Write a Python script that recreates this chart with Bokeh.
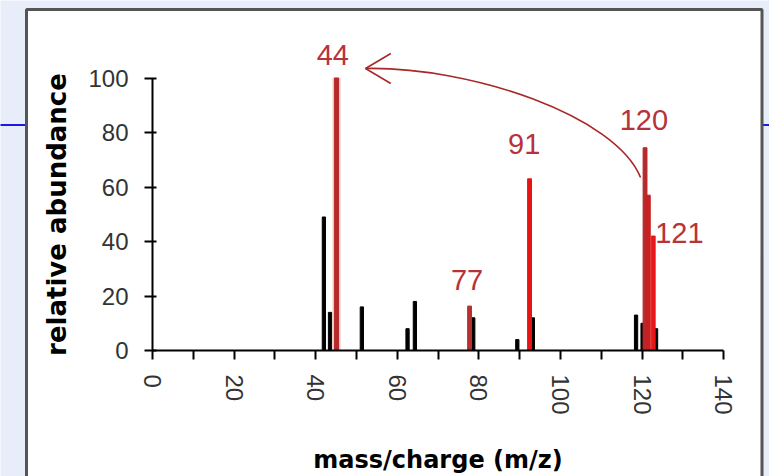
from bokeh.plotting import figure
from bokeh.models import Range1d, FixedTicker, LinearAxis
from bokeh.core.properties import value
from bokeh.embed import file_html
from bokeh.resources import INLINE

# ---------------- data ----------------
black_mz = [42.0, 43.5, 51.3, 62.5, 64.3, 78.6, 89.4, 93.2, 118.5, 120.1, 123.4]
black_ab = [49, 14, 16, 8, 18, 12, 4, 12, 13, 10, 8]

red_mz = [45.1, 77.7, 92.4, 120.7, 121.5, 122.7]
red_ab = [100, 16.3, 63, 74.4, 57, 42]
red_col = ["#b52a2a", "#b83030", "#e81414", "#b52a2a", "#c82020", "#e81818"]

label_text = ["44", "77", "91", "120", "121"]
label_x = [44.2, 77.1, 91.1, 120.4, 129.1]
label_y = [108.6, 25.7, 75.6, 84.7, 43.3]

x_ticks = [0, 20, 40, 60, 80, 100, 120, 140]
x_minor = [10, 30, 50, 70, 90, 110, 130]
y_ticks = [0, 20, 40, 60, 80, 100]

# arrow from the 120 peak back to the 44 peak (annotation)
arrow_start = (119.6, 63.5)
arrow_c1 = (78.0, 104.2)
arrow_c2 = (113.5, 86.2)
arrow_tip = (52.2, 103.5)
arrow_barb_x = [58.4, 58.4]
arrow_barb_y = [109.0, 98.0]

# ---------------- layout ----------------
W, H = 769, 476
BG = "#e7eef9"
kx = (723.3 - 152.0) / 140.0
ky = (350.0 - 77.5) / 100.0


def sx(px):
    return (px - 152.0) / kx


def sy(py):
    return (350.0 - py) / ky


p = figure(width=W, height=H,
           x_range=Range1d(sx(0), sx(W)), y_range=Range1d(sy(H), sy(0)),
           output_backend="svg", toolbar_location=None,
           x_axis_location=None, y_axis_location=None, min_border=0)
p.grid.visible = False
p.outline_line_color = None
p.background_fill_color = BG
p.border_fill_color = BG

# slide decoration: blue rule and white window with grey frame
p.segment(x0=[sx(-5)], y0=[sy(124.5)], x1=[sx(W + 5)], y1=[sy(124.5)],
          line_color="#1a1ae6", line_width=2)
p.quad(left=[sx(26)], right=[sx(761.5)], top=[sy(9)], bottom=[sy(H + 20)],
       fill_color="white", line_color="#555555", line_width=3)

# bars
p.vbar(x=black_mz, top=black_ab, bottom=0, width=0.8, color="black")
p.vbar(x=[red_mz[0]], top=[red_ab[0]], bottom=0, width=1.7, color="#f3c2c2")
p.vbar(x=red_mz, top=red_ab, bottom=0, width=0.95, color=red_col)

# arrow
p.bezier(x0=[arrow_start[0]], y0=[arrow_start[1]], x1=[arrow_tip[0]], y1=[arrow_tip[1]],
         cx0=[arrow_c2[0]], cy0=[arrow_c2[1]], cx1=[arrow_c1[0]], cy1=[arrow_c1[1]],
         line_color="#a82828", line_width=1.6)
p.segment(x0=[arrow_tip[0]] * 2, y0=[arrow_tip[1]] * 2, x1=arrow_barb_x, y1=arrow_barb_y,
          line_color="#a82828", line_width=1.6)

# peak labels
p.text(x=label_x, y=label_y, text=label_text,
       text_font=value("Liberation Sans"), text_font_size="29px",
       text_color="#b8323a", text_align="center", text_baseline="alphabetic")

# axes
xaxis = LinearAxis(fixed_location=0, bounds=(0, 140),
                   ticker=FixedTicker(ticks=x_ticks, minor_ticks=x_minor))
yaxis = LinearAxis(fixed_location=0, bounds=(0, 100), ticker=FixedTicker(ticks=y_ticks))
for ax in (xaxis, yaxis):
    ax.axis_line_width = 2
    ax.axis_line_color = "black"
    ax.major_tick_line_width = 2
    ax.minor_tick_line_width = 2
    ax.major_tick_line_color = "black"
    ax.minor_tick_line_color = "black"
    ax.major_label_text_font = "Liberation Sans"
    ax.major_label_text_font_size = "24px"
    ax.major_label_text_color = "#333333"
    ax.axis_label_text_font = "DejaVu Sans"
    ax.axis_label_text_font_style = "bold"
    ax.axis_label_text_color = "black"

xaxis.axis_label = "mass/charge (m/z)"
xaxis.axis_label_text_font_size = "24px"
xaxis.major_tick_in = 0
xaxis.major_tick_out = 9
xaxis.minor_tick_in = 0
xaxis.minor_tick_out = 9
xaxis.major_label_orientation = "vertical"
xaxis.major_label_standoff = 15
xaxis.axis_label_standoff = 28

yaxis.axis_label = "relative abundance"
yaxis.axis_label_text_font_size = "26px"
yaxis.major_tick_in = 4
yaxis.major_tick_out = 8
yaxis.minor_tick_line_color = None
yaxis.major_label_standoff = 16
yaxis.axis_label_standoff = 13

p.add_layout(xaxis, "below")
p.add_layout(yaxis, "left")

open("out.html", "w").write(file_html(p, INLINE))
